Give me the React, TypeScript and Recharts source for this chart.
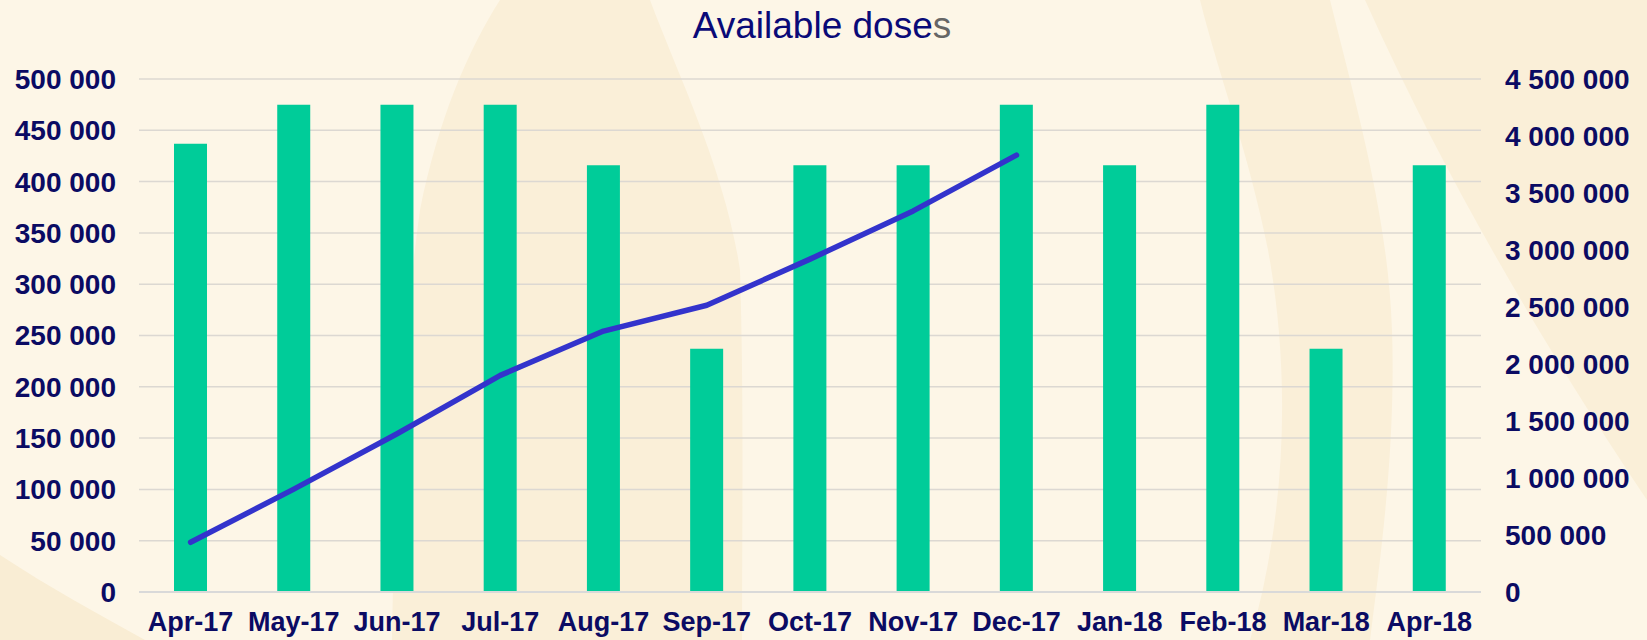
import { Bar, CartesianGrid, ComposedChart, Line, XAxis, YAxis } from "recharts";

const months = [
  "Apr-17", "May-17", "Jun-17", "Jul-17", "Aug-17", "Sep-17", "Oct-17",
  "Nov-17", "Dec-17", "Jan-18", "Feb-18", "Mar-18", "Apr-18",
];

// monthly available doses (left axis)
const availableDoses = [
  437000, 475000, 475000, 475000, 416000, 237000, 416000,
  416000, 475000, 416000, 475000, 237000, 416000,
];

// running total (right axis), only drawn up to Dec-17
const cumulativeDoses = [
  436000, 902000, 1388000, 1900000, 2289000, 2515000, 2920000,
  3343000, 3832000,
];

const leftTicks = [0, 50000, 100000, 150000, 200000, 250000, 300000, 350000, 400000, 450000, 500000];
const rightTicks = [0, 500000, 1000000, 1500000, 2000000, 2500000, 3000000, 3500000, 4000000, 4500000];

const data = months.map((month, i) => ({
  month,
  available: availableDoses[i],
  cumulative: cumulativeDoses[i] ?? null,
}));

const spaced = (v: number) => String(v).replace(/\B(?=(\d{3})+(?!\d))/g, " ");

const font = '"Liberation Sans", Arial, sans-serif';
const navy = "#0B0B63";
const tickStyle = { fill: navy, fontSize: 28, fontWeight: 700, fontFamily: font };
const swoosh = "#FAEFD8";

export default function App() {
  return (
    <div
      style={{
        position: "absolute",
        left: 0,
        top: 0,
        width: 1647,
        height: 640,
        background: "#FDF6E7",
        fontFamily: font,
        overflow: "hidden",
      }}
    >
      <svg width={1647} height={640} style={{ position: "absolute", left: 0, top: 0 }}>
        {/* background swooshes */}
        <path
          d="M500,0 L650,0 C680,80 725,170 740,270 C744,400 742,520 742,640 L392,640 C394,500 402,340 420,210 C438,120 468,50 500,0 Z"
          fill={swoosh}
        />
        <path
          d="M1200,0 L1330,0 C1360,120 1388,220 1392,330 C1396,450 1380,560 1370,640 L1250,640 C1285,520 1292,380 1268,250 C1248,150 1220,80 1200,0 Z"
          fill={swoosh}
        />
        <path d="M1365,0 L1647,0 L1647,500 C1560,370 1455,200 1365,0 Z" fill={swoosh} />
        <path d="M0,555 C50,588 100,615 145,640 L0,640 Z" fill="#F9EDD4" />
        <text x={822} y={38} textAnchor="middle" fontSize={37} fontFamily={font}>
          <tspan fill="#0A0A78">Available dose</tspan>
          <tspan fill="#666666">s</tspan>
        </text>
      </svg>
      <div style={{ position: "absolute", left: 0, top: 0 }}>
        <ComposedChart
          width={1647}
          height={640}
          data={data}
          margin={{ top: 79, right: 0, bottom: 0, left: 0 }}
        >
          <CartesianGrid yAxisId="left" vertical={false} stroke="#DCD8D2" strokeWidth={1.5} />
          <XAxis
            dataKey="month"
            height={48}
            interval={0}
            tickLine={false}
            tickSize={0}
            tickMargin={20}
            axisLine={{ stroke: "#D9D9D9", strokeWidth: 2 }}
            tick={{ ...tickStyle, fontSize: 27 }}
          />
          <YAxis
            yAxisId="left"
            width={139}
            domain={[0, 500000]}
            ticks={leftTicks}
            tickFormatter={spaced}
            axisLine={false}
            tickLine={false}
            tickSize={0}
            tickMargin={23}
            tick={tickStyle}
          />
          <YAxis
            yAxisId="right"
            orientation="right"
            width={166}
            domain={[0, 4500000]}
            ticks={rightTicks}
            tickFormatter={spaced}
            axisLine={false}
            tickLine={false}
            tickSize={0}
            tickMargin={24}
            tick={{ ...tickStyle, textAnchor: "start" }}
          />
          <Bar
            yAxisId="left"
            dataKey="available"
            fill="#00CC99"
            barSize={33}
            isAnimationActive={false}
          />
          <Line
            yAxisId="right"
            dataKey="cumulative"
            type="linear"
            stroke="#3333CC"
            strokeWidth={5.5}
            strokeLinecap="round"
            strokeLinejoin="round"
            dot={false}
            activeDot={false}
            isAnimationActive={false}
          />
        </ComposedChart>
      </div>
    </div>
  );
}
